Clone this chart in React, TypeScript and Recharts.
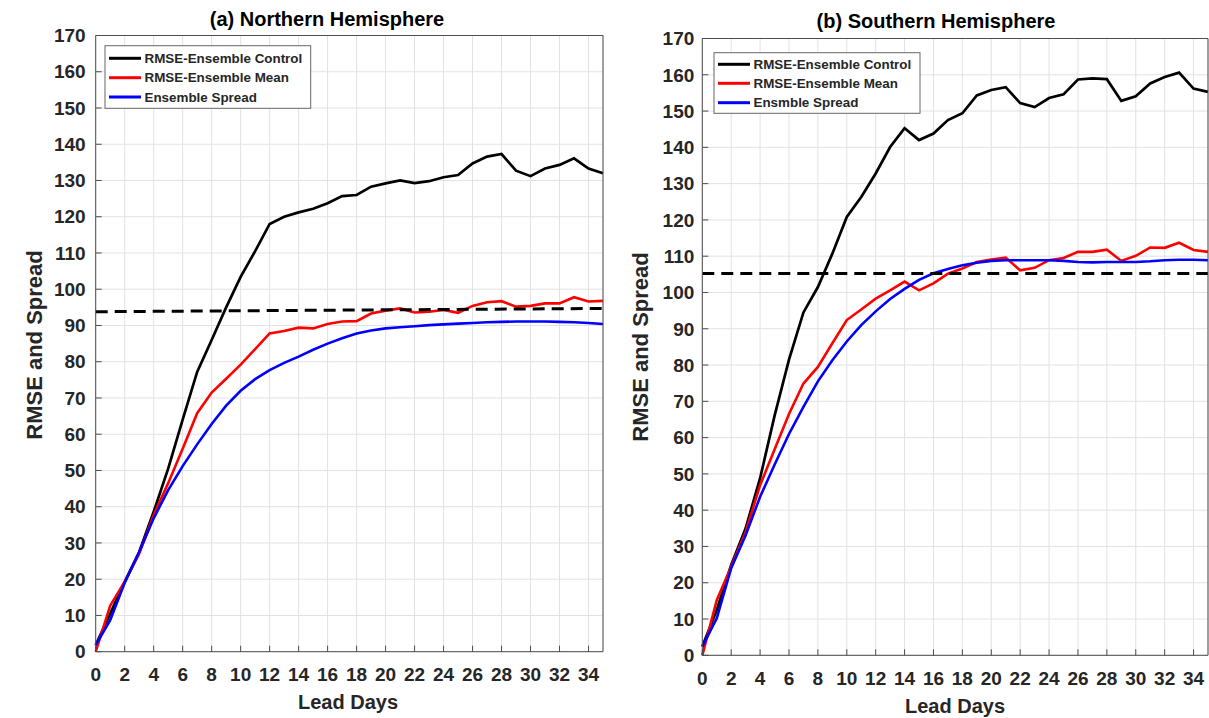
import { LineChart, Line, XAxis, YAxis, CartesianGrid, ReferenceLine } from "recharts";

// lead days 0..35
const days = [
  0, 1, 2, 3, 4, 5, 6, 7, 8, 9, 10, 11, 12, 13, 14, 15, 16, 17,
  18, 19, 20, 21, 22, 23, 24, 25, 26, 27, 28, 29, 30, 31, 32, 33, 34, 35,
];

const nhControl = [
  1.8, 10.5, 19.3, 27.5, 38.6, 50.5, 64, 77.2, 86, 95, 103.4, 110.5, 118, 120, 121.2, 122.2, 123.7, 125.7,
  126, 128.3, 129.2, 130, 129.3, 129.8, 130.9, 131.5, 134.7, 136.6, 137.3, 132.7, 131.2, 133.3, 134.3, 136.1, 133.3, 132,
];
const nhMean = [
  0, 12.7, 19.3, 27, 37.7, 46.5, 56, 65.8, 71.5, 75.3, 79.2, 83.5, 87.8, 88.5, 89.4, 89.2, 90.4, 91.1,
  91.2, 93.3, 94.1, 94.7, 93.6, 93.8, 94.3, 93.5, 95.4, 96.4, 96.7, 95.2, 95.4, 96.1, 96.1, 97.8, 96.6, 96.8,
];
const nhSpread = [
  1.8, 8.7, 19, 27.5, 36.8, 44.6, 51.2, 57.2, 62.8, 67.9, 72, 75.2, 77.7, 79.7, 81.4, 83.3, 85, 86.5,
  87.8, 88.6, 89.2, 89.5, 89.8, 90.1, 90.3, 90.5, 90.7, 90.9, 91, 91.1, 91.1, 91.1, 91, 90.9, 90.7, 90.4,
];
// dashed reference, value at day 0 and day 35
const nhDashed = [93.8, 94.7];

const shControl = [
  2.4, 12.5, 24.9, 35, 48.8, 66, 81.5, 94.5, 101.5, 110.7, 120.8, 126.3, 132.8, 140.1, 145.3, 142, 143.8, 147.5,
  149.4, 154.3, 155.8, 156.6, 152.2, 151.1, 153.6, 154.6, 158.7, 159, 158.8, 152.8, 154.1, 157.6, 159.4, 160.6, 156.2, 155.3,
];
const shMean = [
  0, 15.2, 24.5, 34, 46.9, 56.7, 66.5, 74.9, 79.5, 86, 92.4, 95.3, 98.3, 100.6, 103, 100.6, 102.5, 105.2,
  106.6, 108.4, 109.1, 109.6, 106.1, 106.8, 108.9, 109.5, 111.2, 111.2, 111.8, 108.7, 110.1, 112.4, 112.3, 113.7, 111.7, 111.2,
];
const shSpread = [
  2.4, 10.2, 24, 33.1, 43.7, 52.5, 61, 68.5, 75.5, 81.3, 86.5, 91, 94.8, 98.2, 101, 103.5, 105.3, 106.5,
  107.5, 108.2, 108.7, 108.9, 108.9, 108.9, 108.9, 108.7, 108.4, 108.3, 108.4, 108.4, 108.4, 108.6, 108.9, 109, 109, 108.9,
];
const shDashed = [105.2, 105.2];

const dayTicks = [0, 2, 4, 6, 8, 10, 12, 14, 16, 18, 20, 22, 24, 26, 28, 30, 32, 34];
const valueTicks = [0, 10, 20, 30, 40, 50, 60, 70, 80, 90, 100, 110, 120, 130, 140, 150, 160, 170];

const nhLegend = ["RMSE-Ensemble Control", "RMSE-Ensemble Mean", "Ensemble Spread"];
const shLegend = ["RMSE-Ensemble Control", "RMSE-Ensemble Mean", "Ensmble Spread"];
const seriesColors = ["#000000", "#ff0000", "#0000ff"];

const FONT = "'Liberation Sans', Arial, Helvetica, sans-serif";
const TEXT = "#262626";
const boxLine = { stroke: "#4d4d4d", strokeWidth: 1 };
const tickText = { fill: TEXT, fontSize: 19, fontWeight: 700, fontFamily: FONT };

type PanelProps = {
  left: number;
  width: number;
  margin: { top: number; right: number; bottom: number; left: number };
  control: number[];
  mean: number[];
  spread: number[];
  dashed: number[];
  yTickMargin: number;
};

function Panel({ left, width, margin, control, mean, spread, dashed, yTickMargin }: PanelProps) {
  const data = days.map((d, i) => ({ day: d, control: control[i], mean: mean[i], spread: spread[i] }));
  return (
    <div style={{ position: "absolute", left, top: 0 }}>
      <LineChart width={width} height={718} data={data} margin={margin}>
        <CartesianGrid stroke="#e2e2e2" strokeWidth={1} />
        <XAxis
          dataKey="day"
          type="number"
          domain={[0, 35]}
          ticks={dayTicks}
          interval={0}
          height={1}
          tickSize={-6}
          tickMargin={22}
          axisLine={boxLine}
          tickLine={boxLine}
          tick={tickText}
        />
        <XAxis
          xAxisId="top"
          orientation="top"
          dataKey="day"
          type="number"
          domain={[0, 35]}
          ticks={dayTicks}
          interval={0}
          height={1}
          tickSize={-6}
          axisLine={boxLine}
          tickLine={boxLine}
          tick={false}
        />
        <YAxis
          type="number"
          domain={[0, 170]}
          ticks={valueTicks}
          interval={0}
          width={1}
          tickSize={-6}
          tickMargin={yTickMargin}
          axisLine={boxLine}
          tickLine={boxLine}
          tick={tickText}
        />
        <YAxis
          yAxisId="right"
          orientation="right"
          type="number"
          domain={[0, 170]}
          ticks={valueTicks}
          interval={0}
          width={1}
          tickSize={-6}
          axisLine={boxLine}
          tickLine={boxLine}
          tick={false}
        />
        <Line type="linear" dataKey="control" stroke={seriesColors[0]} strokeWidth={2.7} dot={false} isAnimationActive={false} />
        <Line type="linear" dataKey="mean" stroke={seriesColors[1]} strokeWidth={2.6} dot={false} isAnimationActive={false} />
        <Line type="linear" dataKey="spread" stroke={seriesColors[2]} strokeWidth={2.6} dot={false} isAnimationActive={false} />
        <ReferenceLine
          segment={[
            { x: 0, y: dashed[0] },
            { x: 35, y: dashed[1] },
          ]}
          stroke="#000"
          strokeWidth={3}
          strokeDasharray="12 7"
        />
      </LineChart>
    </div>
  );
}

function LegendBox({ x, y, w, h, labels, rowY }: { x: number; y: number; w: number; h: number; labels: string[]; rowY: number[] }) {
  return (
    <g>
      <rect x={x} y={y} width={w} height={h} fill="#fff" stroke="#666" strokeWidth={1} />
      {labels.map((label, i) => (
        <g key={label}>
          <line x1={x + 4} x2={x + 36} y1={rowY[i]} y2={rowY[i]} stroke={seriesColors[i]} strokeWidth={3} />
          <text x={x + 39.5} y={rowY[i]} dominantBaseline="central" fontSize={13.4} fontWeight={700} fill={TEXT} fontFamily={FONT}>
            {label}
          </text>
        </g>
      ))}
    </g>
  );
}

export default function App() {
  return (
    <div style={{ position: "absolute", left: 0, top: 0, width: 1209, height: 718, background: "#fff", overflow: "hidden", fontFamily: FONT }}>
      <Panel
        left={0}
        width={610}
        margin={{ top: 34.5, right: 6, bottom: 65.3, left: 94.7 }}
        control={nhControl}
        mean={nhMean}
        spread={nhSpread}
        dashed={nhDashed}
        yTickMargin={16}
      />
      <Panel
        left={610}
        width={599}
        margin={{ top: 37.5, right: 0, bottom: 61.7, left: 91.3 }}
        control={shControl}
        mean={shMean}
        spread={shSpread}
        dashed={shDashed}
        yTickMargin={14}
      />
      <svg width={1209} height={718} style={{ position: "absolute", left: 0, top: 0, pointerEvents: "none" }}>
        <g fontFamily={FONT} fontWeight={700} fill={TEXT}>
          <text x={327} y={26} textAnchor="middle" fontSize={20} fill="#000">(a) Northern Hemisphere</text>
          <text x={936} y={28} textAnchor="middle" fontSize={20} fill="#000">(b) Southern Hemisphere</text>
          <text x={348} y={709} textAnchor="middle" fontSize={20}>Lead Days</text>
          <text x={955} y={713} textAnchor="middle" fontSize={20}>Lead Days</text>
          <text x={34} y={345} textAnchor="middle" dominantBaseline="central" fontSize={22} transform="rotate(-90 34 345)">RMSE and Spread</text>
          <text x={640} y={347} textAnchor="middle" dominantBaseline="central" fontSize={22} transform="rotate(-90 640 347)">RMSE and Spread</text>
        </g>
        <LegendBox x={105} y={45.7} w={205.7} h={62.6} labels={nhLegend} rowY={[58.3, 77.7, 97]} />
        <LegendBox x={714} y={52.7} w={206} h={60.6} labels={shLegend} rowY={[64.3, 83.3, 102.7]} />
      </svg>
    </div>
  );
}
